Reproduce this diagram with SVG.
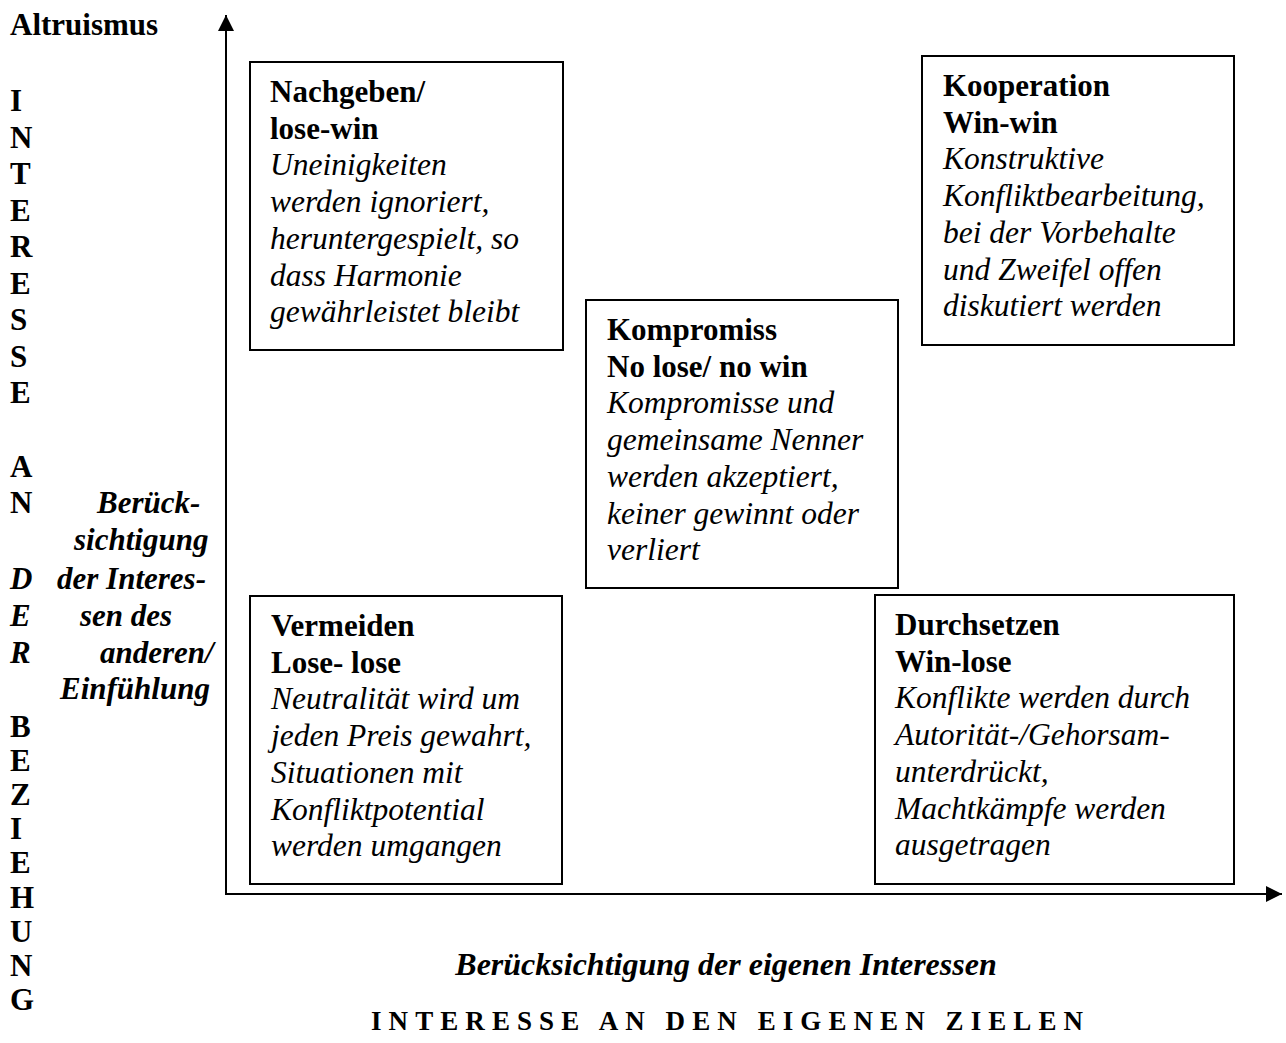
<svg xmlns="http://www.w3.org/2000/svg" width="1286" height="1043" viewBox="0 0 1286 1043">
<style>
text{font-family:"Liberation Serif","Times New Roman",serif;fill:#000}
.b{font-weight:bold;font-size:31px}
.i{font-style:italic;font-size:31.5px}
.bi{font-weight:bold;font-style:italic;font-size:31px}
.box{fill:#fff;stroke:#000;stroke-width:2}
.ax{stroke:#000;stroke-width:2;fill:none}
</style>
<defs>
<marker id="ah" markerUnits="userSpaceOnUse" markerWidth="16" markerHeight="16" refX="16" refY="8" orient="auto">
<path d="M0,0 L16,8 L0,16 z" fill="#000"/>
</marker>
</defs>
<g id="connectors">
<line class="ax" x1="226" y1="895" x2="226" y2="15" marker-end="url(#ah)"/>
<line class="ax" x1="225" y1="894" x2="1282" y2="894" marker-end="url(#ah)"/>
</g>
<g id="left-labels">
<text class="b" x="10" y="35">Altruismus</text>
<text class="b" x="10" y="111">I</text>
<text class="b" x="10" y="147.5">N</text>
<text class="b" x="10" y="184">T</text>
<text class="b" x="10" y="220.5">E</text>
<text class="b" x="10" y="257">R</text>
<text class="b" x="10" y="293.5">E</text>
<text class="b" x="10" y="330">S</text>
<text class="b" x="10" y="366.5">S</text>
<text class="b" x="10" y="403">E</text>
<text class="b" x="10" y="477">A</text>
<text class="b" x="10" y="513">N</text>
<text class="bi" x="10" y="589">D</text>
<text class="bi" x="10" y="626">E</text>
<text class="bi" x="10" y="663">R</text>
<text class="b" x="10" y="737">B</text>
<text class="b" x="10" y="771">E</text>
<text class="b" x="10" y="805">Z</text>
<text class="b" x="10" y="839">I</text>
<text class="b" x="10" y="873">E</text>
<text class="b" x="10" y="908">H</text>
<text class="b" x="10" y="942">U</text>
<text class="b" x="10" y="976">N</text>
<text class="b" x="10" y="1010">G</text>
<text class="bi" x="97" y="513">Berück-</text>
<text class="bi" x="74" y="550">sichtigung</text>
<text class="bi" x="57" y="589">der Interes-</text>
<text class="bi" x="80" y="626">sen des</text>
<text class="bi" x="100" y="663">anderen/</text>
<text class="bi" x="60" y="699">Einfühlung</text>
</g>
<g id="node-nachgeben">
<rect class="box" x="250" y="62" width="313" height="288"/>
<text x="270" y="102"><tspan class="b" x="270">Nachgeben/</tspan><tspan class="b" x="270" dy="36.7">lose-win</tspan><tspan class="i" x="270" dy="36.7">Uneinigkeiten</tspan><tspan class="i" x="270" dy="36.7">werden ignoriert,</tspan><tspan class="i" x="270" dy="36.7">heruntergespielt, so</tspan><tspan class="i" x="270" dy="36.7">dass Harmonie</tspan><tspan class="i" x="270" dy="36.7">gewährleistet bleibt</tspan></text>
</g>
<g id="node-kooperation">
<rect class="box" x="922" y="56" width="312" height="289"/>
<text x="943" y="96"><tspan class="b" x="943">Kooperation</tspan><tspan class="b" x="943" dy="36.7">Win-win</tspan><tspan class="i" x="943" dy="36.7">Konstruktive</tspan><tspan class="i" x="943" dy="36.7">Konfliktbearbeitung,</tspan><tspan class="i" x="943" dy="36.7">bei der Vorbehalte</tspan><tspan class="i" x="943" dy="36.7">und Zweifel offen</tspan><tspan class="i" x="943" dy="36.7">diskutiert werden</tspan></text>
</g>
<g id="node-kompromiss">
<rect class="box" x="586" y="300" width="312" height="288"/>
<text x="607" y="340"><tspan class="b" x="607">Kompromiss</tspan><tspan class="b" x="607" dy="36.7">No lose/ no win</tspan><tspan class="i" x="607" dy="36.7">Kompromisse und</tspan><tspan class="i" x="607" dy="36.7">gemeinsame Nenner</tspan><tspan class="i" x="607" dy="36.7">werden akzeptiert,</tspan><tspan class="i" x="607" dy="36.7">keiner gewinnt oder</tspan><tspan class="i" x="607" dy="36.7">verliert</tspan></text>
</g>
<g id="node-vermeiden">
<rect class="box" x="250" y="596" width="312" height="288"/>
<text x="271" y="636"><tspan class="b" x="271">Vermeiden</tspan><tspan class="b" x="271" dy="36.7">Lose- lose</tspan><tspan class="i" x="271" dy="36.7">Neutralität wird um</tspan><tspan class="i" x="271" dy="36.7">jeden Preis gewahrt,</tspan><tspan class="i" x="271" dy="36.7">Situationen mit</tspan><tspan class="i" x="271" dy="36.7">Konfliktpotential</tspan><tspan class="i" x="271" dy="36.7">werden umgangen</tspan></text>
</g>
<g id="node-durchsetzen">
<rect class="box" x="875" y="595" width="359" height="289"/>
<text x="895" y="635"><tspan class="b" x="895">Durchsetzen</tspan><tspan class="b" x="895" dy="36.7">Win-lose</tspan><tspan class="i" x="895" dy="36.7">Konflikte werden durch</tspan><tspan class="i" x="895" dy="36.7">Autorität-/Gehorsam-</tspan><tspan class="i" x="895" dy="36.7">unterdrückt,</tspan><tspan class="i" x="895" dy="36.7">Machtkämpfe werden</tspan><tspan class="i" x="895" dy="36.7">ausgetragen</tspan></text>
</g>
<g id="bottom-labels">
<text class="bi" x="726" y="975" text-anchor="middle" style="font-size:32px">Berücksichtigung der eigenen Interessen</text>
<text class="b" x="371" y="1030" style="font-size:27px" textLength="712" lengthAdjust="spacing">INTERESSE AN DEN EIGENEN ZIELEN</text>
</g>
</svg>
